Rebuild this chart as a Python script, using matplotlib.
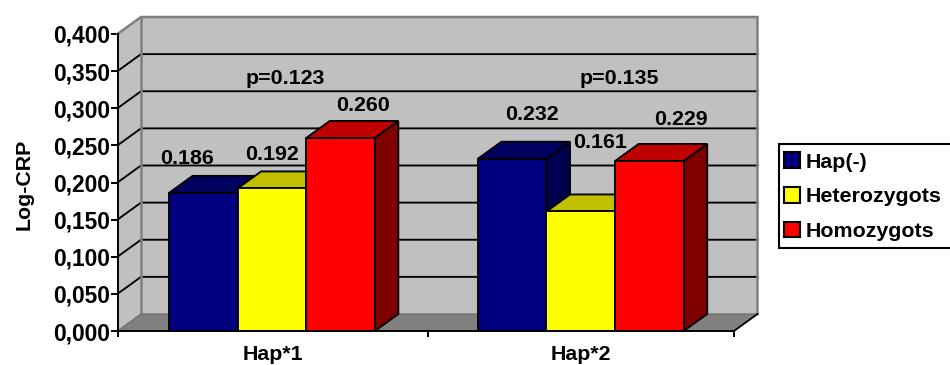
import matplotlib
matplotlib.use("Agg")
import matplotlib.pyplot as plt
from matplotlib.patches import Patch, Rectangle

categories = ["Hap*1", "Hap*2"]
series_names = ["Hap(-)", "Heterozygots", "Homozygots"]
hap_minus = [0.186, 0.232]
heterozygots = [0.192, 0.161]
homozygots = [0.260, 0.229]
value_labels = [["0.186", "0.232"], ["0.192", "0.161"], ["0.260", "0.229"]]
p_labels = ["p=0.123", "p=0.135"]
yticks = [0.0, 0.05, 0.10, 0.15, 0.20, 0.25, 0.30, 0.35, 0.40]
ytick_labels = ["0,000", "0,050", "0,100", "0,150", "0,200", "0,250", "0,300", "0,350", "0,400"]

W, H = 950, 365
L, R, T, B = 117.5, 734.0, 34.0, 331.0
FS = 15.4
TICK_FS = 16.4
plt.rcParams["font.family"] = ["Liberation Sans", "DejaVu Sans"]
plt.rcParams["font.weight"] = "bold"

fig = plt.figure(figsize=(W / 100, H / 100), dpi=100, facecolor="white")
ax = fig.add_axes([L / W, 1 - B / H, (R - L) / W, (B - T) / H])
ax.set_xlim(0, 2)
ax.set_ylim(0, 0.4)
ax.patch.set_visible(False)

# depth of the faux 3-D box, in data units
dx = 23.5 / (R - L) * 2
dy = 17.0 / (B - T) * 0.4
wall, floor, wall_edge = "#C0C0C0", "#808080", "#808080"
top = 0.4
xmax = 2

# walls and floor
ax.fill([0, dx, dx, 0], [0, dy, top + dy, top], fc=wall, ec="none", clip_on=False, zorder=1)
ax.fill([dx, xmax + dx, xmax + dx, dx], [dy, dy, top + dy, top + dy], fc=wall, ec="none", clip_on=False, zorder=1)
ax.fill([0, xmax, xmax + dx, dx], [0, 0, dy, dy], fc=floor, ec="none", clip_on=False, zorder=1)

# gridlines
for v in yticks[1:-1]:
    ax.plot([0, dx, xmax + dx], [v, v + dy, v + dy], color="black", lw=1.35, clip_on=False,
            zorder=2, solid_joinstyle="miter")
ax.plot([0, dx, xmax + dx, xmax + dx], [top, top + dy, top + dy, dy], color=wall_edge, lw=1.8,
        clip_on=False, zorder=2, solid_joinstyle="miter")
ax.plot([dx, dx], [dy, top + dy], color=wall_edge, lw=1.8, clip_on=False, zorder=2)
ax.plot([0, dx, xmax + dx], [0, dy, dy], color="#6E6E6E", lw=0.9, clip_on=False, zorder=2)
ax.plot([xmax, xmax + dx], [0, dy], color="black", lw=1.3, clip_on=False, zorder=2)

# bars
bar_w = 68.6 / (R - L) * 2
all_series = [hap_minus, heterozygots, homozygots]
front = ["#000080", "#FFFF00", "#FF0000"]
top_c = ["#000060", "#C0C000", "#C00000"]
side_c = ["#000050", "#808000", "#800000"]
centers = [0.501, 1.503]
z = 3
EDGE = 1.35
for c, cx in enumerate(centers):
    for s, vals in enumerate(all_series):
        x0 = cx + (s - 1.5) * bar_w
        x1 = x0 + bar_w
        v = vals[c]
        ax.fill([x1, x1 + dx, x1 + dx, x1], [0, dy, v + dy, v], fc=side_c[s], ec="black", lw=EDGE,
                clip_on=False, zorder=z, joinstyle="miter")
        ax.fill([x0, x1, x1 + dx, x0 + dx], [v, v, v + dy, v + dy], fc=top_c[s], ec="black", lw=EDGE,
                clip_on=False, zorder=z, joinstyle="miter")
        ax.bar(x0, v, width=bar_w, align="edge", color=front[s], edgecolor="black", lw=EDGE,
               clip_on=False, zorder=z)
        z += 1

# axes
for sp in ("top", "right"):
    ax.spines[sp].set_visible(False)
for sp in ("left", "bottom"):
    ax.spines[sp].set_linewidth(1.4)
    ax.spines[sp].set_zorder(20)
ax.set_yticks(yticks, ytick_labels, fontsize=TICK_FS, fontweight="bold")
ax.set_xticks([0, 1.006, 2], ["", "", ""])
ax.tick_params(axis="y", length=5, width=1.4, color="black", pad=0.6)
ax.tick_params(axis="x", length=4.5, width=1.4, color="black")

def px(x, y, s, size=FS, **kw):
    fig.text(x / W, 1 - y / H, s, fontsize=size, fontweight="bold", ha="center", va="center",
             color="black", zorder=30, **kw)

for name, cx in zip(categories, [272.5, 581]):
    px(cx, 355, name)
px(24, 184, "Log-CRP", rotation=90)

label_pos = [[(187, 158.5), (532, 114.5)], [(272, 154.5), (600, 142.5)], [(363, 106), (681, 119.5)]]
for s in range(3):
    for c in range(2):
        px(label_pos[s][c][0], label_pos[s][c][1], value_labels[s][c])
for s, pos in zip(p_labels, [(285, 78), (619, 78)]):
    px(pos[0], pos[1], s)

# legend: its frame runs past the right edge of the picture
fig.add_artist(Rectangle((778.5 / W, 1 - 248 / H), 180 / W, 104.5 / H, transform=fig.transFigure,
                         fc="white", ec="black", lw=1.5, zorder=5))
handles = [Patch(fc=f, ec="black", lw=1.5) for f in front]
leg = fig.legend(handles, series_names, loc="upper left", bbox_to_anchor=(777.5 / W, 1 - 145.5 / H),
                 frameon=False, handlelength=0.75, handleheight=0.75, handletextpad=0.24,
                 labelspacing=0.72, borderpad=0.32, borderaxespad=0,
                 prop={"family": "Liberation Sans", "weight": "bold", "size": FS})
leg.set_zorder(6)

fig.savefig("out.png", dpi=100)
